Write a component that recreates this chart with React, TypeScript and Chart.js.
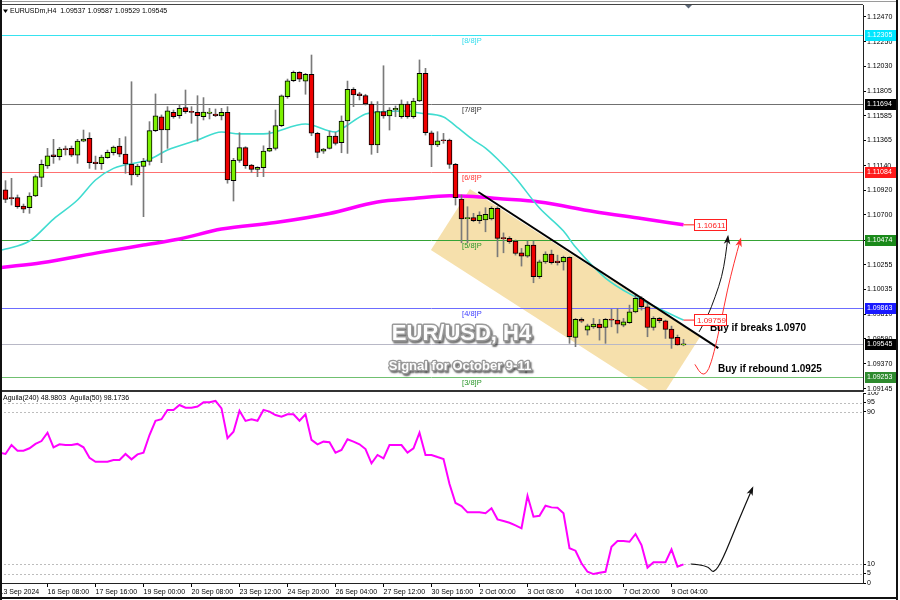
import React, { useEffect, useRef } from "react";
import { Chart, registerables } from "chart.js";

Chart.register(...registerables);

const FONT = '"Liberation Sans", Arial, Helvetica, sans-serif';

const SYMBOL = "EURUSDm,H4";

const OPEN = [
  1.10923, 1.10848, 1.10854, 1.10779, 1.10764, 1.10869, 1.11036, 1.11137, 1.11238, 1.1122,
  1.11286, 1.11295, 1.11235, 1.1136, 1.11385, 1.11173, 1.11158, 1.11211, 1.11256, 1.11316,
  1.11244, 1.11152, 1.11057, 1.11134, 1.11179, 1.11453, 1.11578, 1.11459, 1.11617, 1.11587,
  1.11659, 1.11619, 1.11617, 1.11578, 1.11608, 1.11602, 1.11585, 1.11617, 1.11006, 1.11188,
  1.11301, 1.11146, 1.11107, 1.11122, 1.11271, 1.11295, 1.11498, 1.11758, 1.119, 1.11975,
  1.11897, 1.11957, 1.1143, 1.11271, 1.11295, 1.11405, 1.11346, 1.1154, 1.11824, 1.11782,
  1.11766, 1.11692, 1.11325, 1.11623, 1.11585, 1.11638, 1.11578, 1.11692, 1.11578, 1.11719,
  1.11966, 1.11435, 1.11325, 1.11367, 1.11369, 1.11152, 1.10842, 1.10666, 1.10675, 1.10648,
  1.10654, 1.10663, 1.10759, 1.10493, 1.1049, 1.10466, 1.10361, 1.10331, 1.1043, 1.10147,
  1.1028, 1.10349, 1.10287, 1.1028, 1.1032, 1.09604, 1.09765, 1.09669, 1.09699, 1.09723,
  1.09693, 1.09765, 1.09759, 1.09714, 1.09735, 1.09833, 1.09953, 1.09878, 1.09693, 1.09774,
  1.09753, 1.09678, 1.09604, 1.09537,
];
const HIGH = [
  1.11006, 1.11027, 1.10878, 1.10797, 1.10898, 1.11057, 1.11191, 1.11295, 1.11376, 1.11304,
  1.11316, 1.11316, 1.11376, 1.11459, 1.11435, 1.11226, 1.11235, 1.1128, 1.11316, 1.11385,
  1.11399, 1.11891, 1.11152, 1.11206, 1.11534, 1.11782, 1.11594, 1.11668, 1.11638, 1.11683,
  1.11817, 1.11668, 1.11766, 1.11749, 1.11653, 1.11647, 1.11653, 1.11668, 1.11206, 1.11435,
  1.1131, 1.11152, 1.11131, 1.11318, 1.1145, 1.11638, 1.11773, 1.11915, 1.11987, 1.11981,
  1.11966, 1.1213, 1.11439, 1.11295, 1.1145, 1.11439, 1.11585, 1.11897, 1.11838, 1.11797,
  1.11779, 1.11713, 1.11713, 1.12034, 1.11659, 1.11674, 1.11728, 1.11713, 1.11743, 1.12086,
  1.12011, 1.1145, 1.11444, 1.11429, 1.11378, 1.11161, 1.10878, 1.10773, 1.10714, 1.10728,
  1.10764, 1.10773, 1.10773, 1.10539, 1.10505, 1.10475, 1.104, 1.10466, 1.10466, 1.10296,
  1.1037, 1.10385, 1.1034, 1.10331, 1.10325, 1.09774, 1.09779, 1.09723, 1.09774, 1.09765,
  1.09774, 1.09857, 1.09863, 1.09774, 1.09893, 1.09983, 1.09968, 1.09908, 1.09789, 1.09783,
  1.09759, 1.09705, 1.09625, 1.09587,
];
const LOW = [
  1.10809, 1.10788, 1.10759, 1.10719, 1.10714, 1.10863, 1.10952, 1.11116, 1.11161, 1.11191,
  1.11235, 1.1122, 1.11161, 1.11354, 1.11116, 1.11107, 1.11107, 1.11206, 1.11235, 1.1122,
  1.11072, 1.10967, 1.11042, 1.10684, 1.11146, 1.11444, 1.11167, 1.11295, 1.11564, 1.11564,
  1.11608, 1.11519, 1.1136, 1.11549, 1.11558, 1.11578, 1.11549, 1.10983, 1.10824, 1.1117,
  1.11116, 1.1108, 1.11042, 1.11042, 1.11265, 1.1128, 1.11489, 1.11743, 1.11891, 1.11891,
  1.11779, 1.11408, 1.11211, 1.1125, 1.11289, 1.11325, 1.11256, 1.1125, 1.11668, 1.11728,
  1.11683, 1.11242, 1.11256, 1.11564, 1.11459, 1.11578, 1.11564, 1.11564, 1.11564, 1.11713,
  1.11414, 1.11131, 1.1131, 1.1134, 1.11116, 1.10788, 1.10451, 1.10451, 1.10639, 1.10624,
  1.10549, 1.10654, 1.10325, 1.10361, 1.10445, 1.1034, 1.10242, 1.1032, 1.10093, 1.10132,
  1.10266, 1.1026, 1.10251, 1.10206, 1.09551, 1.09521, 1.09737, 1.09625, 1.09685, 1.0958,
  1.09551, 1.09699, 1.09643, 1.09699, 1.09729, 1.09824, 1.09848, 1.0961, 1.09669, 1.09735,
  1.09595, 1.09506, 1.09535, 1.09529,
];
const CLOSE = [
  1.10839, 1.10845, 1.10773, 1.10752, 1.10869, 1.11042, 1.11152, 1.11229, 1.1122, 1.11289,
  1.11283, 1.11235, 1.1136, 1.11378, 1.11167, 1.11158, 1.11217, 1.11259, 1.11307, 1.11244,
  1.11155, 1.11057, 1.11137, 1.11179, 1.11453, 1.11585, 1.11459, 1.1163, 1.11578, 1.11653,
  1.11623, 1.11617, 1.11587, 1.1162, 1.1162, 1.11587, 1.11617, 1.11012, 1.11188, 1.11301,
  1.1114, 1.11107, 1.11125, 1.11271, 1.11295, 1.11498, 1.11764, 1.119, 1.11975, 1.11915,
  1.11957, 1.1143, 1.11259, 1.11289, 1.11405, 1.1134, 1.1154, 1.11824, 1.11773, 1.11766,
  1.11692, 1.11325, 1.11623, 1.11585, 1.11638, 1.11653, 1.11692, 1.11578, 1.11719, 1.11966,
  1.11435, 1.11325, 1.11363, 1.11363, 1.11152, 1.10854, 1.10663, 1.10675, 1.10648, 1.10699,
  1.10705, 1.10759, 1.1049, 1.10488, 1.1046, 1.10355, 1.10331, 1.1043, 1.10147, 1.1028,
  1.10349, 1.10272, 1.10272, 1.1032, 1.0961, 1.09765, 1.0975, 1.09708, 1.09723, 1.0969,
  1.09765, 1.09759, 1.09723, 1.09744, 1.09833, 1.09953, 1.09878, 1.09693, 1.09774, 1.09753,
  1.09676, 1.09595, 1.09537, 1.09545,
];

// moving averages read as [candle index, price]
const MA_FAST = [
  [-1, 1.10381], [0, 1.10394], [4, 1.10466], [8, 1.10663], [12, 1.10833], [15, 1.11012], [18, 1.11116],
  [24, 1.11196], [27, 1.1128], [32, 1.11369], [36, 1.11441], [39, 1.11425], [43, 1.11425],
  [50, 1.11513], [55, 1.11441], [56, 1.11468], [60, 1.11602], [62, 1.11619], [67, 1.11629],
  [69, 1.11611], [73, 1.11576], [75, 1.11497], [78, 1.11369], [80, 1.11298], [82, 1.112],
  [85, 1.1103], [89, 1.10761], [93, 1.10555], [95, 1.10412], [100, 1.10135], [105, 1.09965],
  [108, 1.09885], [113, 1.09759],
];
const MA_SLOW = [
  [-1, 1.10228], [0, 1.10234], [6, 1.10272], [16, 1.10367], [23, 1.1043], [29, 1.10484], [36, 1.10573],
  [45, 1.10631], [54, 1.10712], [62, 1.10815], [68, 1.10846], [74, 1.10871], [78, 1.10864],
  [82, 1.10846], [89, 1.10815], [98, 1.1073], [106, 1.10667], [113, 1.10611],
];

const AGUILA_START = -1;
const AGUILA = [
  68.6, 67.9, 72.6, 69.6, 69.6, 70.9, 73.2, 74.7, 79.1, 71.4, 73.0, 72.6, 72.6, 73.2, 71.4,
  65.9, 63.8, 63.8, 63.8, 64.7, 64.7, 67.9, 65.1, 67.7, 68.6, 77.9, 85.4, 86.2, 91.1, 91.1,
  93.7, 92.3, 92.3, 92.9, 95.1, 95.1, 95.8, 91.9, 76.2, 79.6, 90.7, 85.3, 86.2, 85.4, 91.1,
  90.2, 88.4, 87.5, 88.8, 88.8, 85.4, 88.8, 75.3, 73.0, 74.4, 74.1, 68.6, 70.0, 75.6, 74.4,
  73.0, 70.5, 63.0, 67.4, 65.6, 72.6, 72.6, 72.6, 68.6, 70.9, 79.1, 67.4, 67.4, 66.3, 65.3,
  52.1, 42.1, 40.5, 37.2, 37.2, 37.2, 36.7, 39.3, 33.5, 32.6, 31.7, 30.3, 28.8, 45.9, 34.9,
  35.4, 40.7, 39.8, 39.6, 36.7, 18.3, 17.0, 10.4, 5.9, 4.7, 5.4, 5.9, 19.1, 22.1, 22.1,
  21.7, 25.8, 20.0, 8.1, 10.9, 10.9, 10.9, 17.7, 8.6, 9.8,
];
const AGUILA_LEGEND = "Aguila(240) 48.9803  Aguila(50) 98.1736";

const Y_TICKS = [
  1.1247, 1.1225, 1.1203, 1.11805, 1.11585, 1.11365, 1.1114, 1.1092, 1.107, 1.10475,
  1.10255, 1.10035, 1.0981, 1.0959, 1.0937, 1.09145,
];
const OSC_TICKS = [0, 5, 10, 90, 95, 100];
const OSC_GUIDES = [5, 10, 90, 95];
const X_TICK_INDEX = [-1, 7, 15, 23, 31, 39, 47, 55, 63, 71, 79, 87, 95, 103, 111];
const X_TICK_LABELS = [
  "13 Sep 2024", "16 Sep 08:00", "17 Sep 16:00", "19 Sep 00:00", "20 Sep 08:00",
  "23 Sep 12:00", "24 Sep 20:00", "26 Sep 04:00", "27 Sep 12:00", "30 Sep 16:00",
  "2 Oct 00:00", "3 Oct 08:00", "4 Oct 16:00", "7 Oct 20:00", "9 Oct 04:00",
];

const LEVEL_VALUES = [1.12305, 1.11694, 1.11084, 1.10474, 1.09863, 1.09545, 1.09253];
const LEVEL_NAMES = ["[8/8]P", "[7/8]P", "[6/8]P", "[5/8]P", "[4/8]P", "", "[3/8]P"];

const TREND = [[78.8, 1.10905], [118.8, 1.09509]];
const CHANNEL = [[70.9, 1.10385], [77.4, 1.10932], [115.75, 1.09607], [109.25, 1.09062]];
const BREAK_PATH = [
  [115.6, 1.09654], [117.0, 1.09789], [118.3, 1.09968], [119.4, 1.10147], [120.0, 1.10325], [120.4, 1.10504],
];
const REBOUND_PATH = [
  [114.9, 1.09363], [115.6, 1.09296], [116.4, 1.09267], [117.2, 1.09312], [118.05, 1.09461],
  [119.2, 1.09729], [120.3, 1.10027], [121.4, 1.10266], [122.5, 1.10481],
];
const OSC_PATH = [[114.2, 10.0], [117, 9.5], [118, 4.7], [119.5, 12.1], [122, 31.6], [124.5, 50.0]];

const TITLE = "EUR/USD, H4";
const SUBTITLE = "Signal for October 9-11";
const NOTE_BREAK = "Buy if breaks 1.0970";
const NOTE_REBOUND = "Buy if rebound 1.0925";
const TITLE_AT = [76.0, 1.09633];
const SUBTITLE_AT = [75.75, 1.09343];
const NOTE_BREAK_AT = [117.4, 1.09687];
const NOTE_REBOUND_AT = [118.75, 1.09316];
const LEVEL_LABEL_AT = 76.1;
const MA_LABEL_AT = 114.75;

const X_MIN = -0.9167;
const X_MAX = 142.9167;
const Y_MIN = 1.091337;
const Y_MAX = 1.125773;

// styles
const LEVEL_LINE = ["#36e3f0", "#707070", "#ff7070", "#35a335", "#6c6cff", "#b8b8c6", "#70c070"];
const LEVEL_TEXT = ["#33dcec", "#333333", "#ff3333", "#2a962a", "#3c3cff", "", "#2a962a"];
const LEVEL_BOX = ["#00e6ff", "#000000", "#ff1a1a", "#1a8a1a", "#1a1aff", "#000000", "#2e8b2e"];

function pts(list: number[][], xs: any, ys: any) {
  return list.map(([a, b]) => [xs.getPixelForValue(a), ys.getPixelForValue(b)]);
}

function drawArrow(ctx: any, p: number[][], color: string, width: number, head: number) {
  ctx.save();
  ctx.strokeStyle = color;
  ctx.fillStyle = color;
  ctx.lineWidth = width;
  ctx.lineJoin = "round";
  ctx.beginPath();
  ctx.moveTo(p[0][0], p[0][1]);
  for (let k = 1; k < p.length - 1; k++) {
    const mx = (p[k][0] + p[k + 1][0]) / 2;
    const my = (p[k][1] + p[k + 1][1]) / 2;
    ctx.quadraticCurveTo(p[k][0], p[k][1], mx, my);
  }
  const n = p.length;
  ctx.lineTo(p[n - 1][0], p[n - 1][1]);
  ctx.stroke();
  const [x1, y1] = p[n - 2];
  const [x2, y2] = p[n - 1];
  const ang = Math.atan2(y2 - y1, x2 - x1);
  ctx.beginPath();
  ctx.moveTo(x2 + Math.cos(ang) * 2, y2 + Math.sin(ang) * 2);
  ctx.lineTo(x2 - head * Math.cos(ang - 0.42), y2 - head * Math.sin(ang - 0.42));
  ctx.lineTo(x2 - head * 0.6 * Math.cos(ang), y2 - head * 0.6 * Math.sin(ang));
  ctx.lineTo(x2 - head * Math.cos(ang + 0.42), y2 - head * Math.sin(ang + 0.42));
  ctx.closePath();
  ctx.fill();
  ctx.restore();
}

function embossText(ctx: any, text: string, x: number, y: number, size: number, stroke: number) {
  ctx.save();
  ctx.font = `bold ${size}px ${FONT}`;
  ctx.textAlign = "center";
  ctx.textBaseline = "middle";
  ctx.lineJoin = "round";
  ctx.shadowColor = "rgba(0,0,0,0.55)";
  ctx.shadowOffsetX = 1.5;
  ctx.shadowOffsetY = 1.5;
  ctx.shadowBlur = 1.5;
  ctx.lineWidth = stroke;
  ctx.strokeStyle = "#9a9a9a";
  ctx.strokeText(text, x, y);
  ctx.shadowColor = "transparent";
  ctx.fillStyle = "#fdfdfd";
  ctx.fillText(text, x, y);
  ctx.restore();
}

function maLabel(ctx: any, xs: any, ys: any, last: number[], color: string) {
  const ex = xs.getPixelForValue(last[0]);
  const ey = ys.getPixelForValue(last[1]);
  const bx = Math.round(xs.getPixelForValue(MA_LABEL_AT)) + 0.5;
  const by = Math.round(ey) - 5.5;
  ctx.save();
  ctx.strokeStyle = color;
  ctx.lineWidth = 1;
  ctx.beginPath();
  ctx.moveTo(ex, ey);
  ctx.lineTo(bx, ey);
  ctx.stroke();
  ctx.fillStyle = "#ffffff";
  ctx.fillRect(bx, by, 32, 11);
  ctx.strokeRect(bx, by, 32, 11);
  ctx.fillStyle = color;
  ctx.font = `8px ${FONT}`;
  ctx.textBaseline = "middle";
  ctx.fillText(last[1].toFixed(5), bx + 2.5, by + 6);
  ctx.restore();
}

const topDecor = {
  id: "topDecor",
  beforeDatasetsDraw(chart: any) {
    const { ctx, chartArea: a } = chart;
    const xs = chart.scales.x;
    const ys = chart.scales.y;
    ctx.save();
    const poly = pts(CHANNEL, xs, ys);
    ctx.beginPath();
    poly.forEach(([X, Y], k) => (k ? ctx.lineTo(X, Y) : ctx.moveTo(X, Y)));
    ctx.closePath();
    ctx.fillStyle = "rgb(246,224,172)";
    ctx.fill();
    LEVEL_VALUES.forEach((v, k) => {
      const Y = Math.round(ys.getPixelForValue(v)) + 0.5;
      ctx.strokeStyle = LEVEL_LINE[k];
      ctx.lineWidth = 1;
      ctx.beginPath();
      ctx.moveTo(a.left, Y);
      ctx.lineTo(a.right, Y);
      ctx.stroke();
      if (LEVEL_NAMES[k]) {
        ctx.fillStyle = LEVEL_TEXT[k];
        ctx.font = `7.5px ${FONT}`;
        ctx.textBaseline = "top";
        ctx.textAlign = "left";
        ctx.fillText(LEVEL_NAMES[k], xs.getPixelForValue(LEVEL_LABEL_AT), Y + 2);
      }
    });
    ctx.restore();
  },
  afterDatasetsDraw(chart: any) {
    const { ctx } = chart;
    const xs = chart.scales.x;
    const ys = chart.scales.y;
    embossText(ctx, TITLE, xs.getPixelForValue(TITLE_AT[0]), ys.getPixelForValue(TITLE_AT[1]), 22, 3);
    embossText(ctx, SUBTITLE, xs.getPixelForValue(SUBTITLE_AT[0]), ys.getPixelForValue(SUBTITLE_AT[1]), 13, 2.5);
    drawArrow(ctx, pts(BREAK_PATH, xs, ys), "#111111", 1, 8);
    drawArrow(ctx, pts(REBOUND_PATH, xs, ys), "#ff3030", 1, 8);
    ctx.save();
    ctx.fillStyle = "#000";
    ctx.font = `bold 10px ${FONT}`;
    ctx.textBaseline = "middle";
    ctx.textAlign = "left";
    ctx.fillText(NOTE_BREAK, xs.getPixelForValue(NOTE_BREAK_AT[0]), ys.getPixelForValue(NOTE_BREAK_AT[1]));
    ctx.fillText(NOTE_REBOUND, xs.getPixelForValue(NOTE_REBOUND_AT[0]), ys.getPixelForValue(NOTE_REBOUND_AT[1]));
    ctx.restore();
    maLabel(ctx, xs, ys, MA_SLOW[MA_SLOW.length - 1], "#ff2020");
    maLabel(ctx, xs, ys, MA_FAST[MA_FAST.length - 1], "#ff2020");
  },
  afterDraw(chart: any) {
    const { ctx, chartArea: a } = chart;
    const ys = chart.scales.y;
    ctx.save();
    // price boxes on the axis
    LEVEL_VALUES.forEach((v, k) => {
      const Y = Math.round(ys.getPixelForValue(v));
      ctx.fillStyle = LEVEL_BOX[k];
      ctx.fillRect(a.right + 2, Y - 5, 31, 11);
      ctx.fillStyle = "#ffffff";
      ctx.font = `7px ${FONT}`;
      ctx.textBaseline = "middle";
      ctx.textAlign = "left";
      ctx.fillText(v.toFixed(5), a.right + 4, Y + 0.5);
    });
    // header
    const n = OPEN.length - 1;
    ctx.fillStyle = "#000";
    ctx.font = `7px ${FONT}`;
    ctx.textBaseline = "middle";
    ctx.fillText(
      `${SYMBOL}  ${OPEN[n].toFixed(5)} ${HIGH[n].toFixed(5)} ${LOW[n].toFixed(5)} ${CLOSE[n].toFixed(5)}`,
      10, 11.5
    );
    ctx.beginPath();
    ctx.moveTo(3, 9.5);
    ctx.lineTo(8, 9.5);
    ctx.lineTo(5.5, 13);
    ctx.closePath();
    ctx.fill();
    // top marker
    ctx.fillStyle = "#5c6878";
    ctx.beginPath();
    ctx.moveTo(685, 5);
    ctx.lineTo(692, 5);
    ctx.lineTo(688.5, 8.5);
    ctx.closePath();
    ctx.fill();
    // frame
    ctx.fillStyle = "#9a9a9a";
    ctx.fillRect(0, 1, 898, 1);
    ctx.fillStyle = "#444";
    ctx.fillRect(0, 4, a.right, 1);
    ctx.fillStyle = "#333";
    ctx.fillRect(0, a.bottom, a.right + 1, 2);
    ctx.fillStyle = "#111";
    ctx.fillRect(0, 0, 2, chart.height);
    ctx.fillRect(896, 0, 2, chart.height);
    ctx.restore();
  },
};

const bottomDecor = {
  id: "bottomDecor",
  beforeDatasetsDraw(chart: any) {
    const { ctx, chartArea: a } = chart;
    const ys = chart.scales.y;
    ctx.save();
    ctx.strokeStyle = "#bdbdbd";
    ctx.lineWidth = 1;
    ctx.setLineDash([2, 2]);
    OSC_GUIDES.forEach((v) => {
      const Y = Math.round(ys.getPixelForValue(v)) + 0.5;
      ctx.beginPath();
      ctx.moveTo(a.left, Y);
      ctx.lineTo(a.right, Y);
      ctx.stroke();
    });
    ctx.restore();
  },
  afterDatasetsDraw(chart: any) {
    const { ctx } = chart;
    drawArrow(ctx, pts(OSC_PATH, chart.scales.x, chart.scales.y), "#111111", 1.2, 8);
  },
  afterDraw(chart: any) {
    const { ctx } = chart;
    ctx.save();
    ctx.fillStyle = "#000";
    ctx.font = `7px ${FONT}`;
    ctx.textBaseline = "middle";
    ctx.textAlign = "left";
    ctx.fillText(AGUILA_LEGEND, 3, 6.5);
    ctx.fillStyle = "#111";
    ctx.fillRect(0, 0, 2, chart.height);
    ctx.fillRect(896, 0, 2, chart.height);
    ctx.fillRect(0, chart.height - 3, 898, 2);
    ctx.restore();
  },
};

function rightAxisFit(scale: any) {
  scale.width = 37;
  scale.paddingTop = 0;
  scale.paddingBottom = 0;
}

export default function App() {
  const topRef = useRef<HTMLCanvasElement>(null);
  const botRef = useRef<HTMLCanvasElement>(null);

  useEffect(() => {
    Chart.defaults.font.family = FONT;
    Chart.defaults.color = "#000";

    const bodyColors = OPEN.map((o, i) => (CLOSE[i] >= o ? "#7cf000" : "#ee0000"));

    const top = new Chart(topRef.current as HTMLCanvasElement, {
      type: "bar",
      data: {
        datasets: [
          {
            type: "line",
            data: TREND.map(([x, y]) => ({ x, y })),
            borderColor: "#000",
            borderWidth: 2,
            pointRadius: 0,
            order: -1,
          },
          {
            type: "bar",
            data: OPEN.map((o, i) => ({ x: i, y: [Math.min(o, CLOSE[i]), Math.max(o, CLOSE[i])] })),
            backgroundColor: bodyColors,
            borderColor: "#000",
            borderWidth: 1,
            borderSkipped: false,
            barThickness: 5,
            minBarLength: 1,
            grouped: false,
            order: 0,
          },
          {
            type: "bar",
            data: LOW.map((l, i) => ({ x: i, y: [l, HIGH[i]] })),
            backgroundColor: "#7a7a7a",
            barThickness: 1,
            grouped: false,
            order: 1,
          },
          {
            type: "line",
            data: MA_FAST.map(([x, y]) => ({ x, y })),
            borderColor: "#40dcd0",
            borderWidth: 1.6,
            pointRadius: 0,
            cubicInterpolationMode: "monotone",
            order: 2,
          },
          {
            type: "line",
            data: MA_SLOW.map(([x, y]) => ({ x, y })),
            borderColor: "#ff00ff",
            borderWidth: 3.5,
            pointRadius: 0,
            cubicInterpolationMode: "monotone",
            order: 3,
          },
        ] as any,
      },
      options: {
        responsive: false,
        animation: false,
        devicePixelRatio: 1,
        events: [],
        layout: { padding: { top: 5, bottom: 2, left: 0, right: 0 } },
        plugins: { legend: { display: false }, tooltip: { enabled: false } },
        scales: {
          x: { type: "linear", display: false, min: X_MIN, max: X_MAX, offset: false, bounds: "data" },
          y: {
            type: "linear",
            position: "right",
            min: Y_MIN,
            max: Y_MAX,
            bounds: "data",
            afterBuildTicks: (s: any) => {
              s.ticks = Y_TICKS.map((v) => ({ value: v }));
            },
            afterFit: rightAxisFit,
            ticks: {
              callback: (v: any) => Number(v).toFixed(5),
              font: { size: 7, family: FONT },
              color: "#000",
              padding: 1,
              autoSkip: false,
            },
            grid: { drawOnChartArea: false, drawTicks: true, tickLength: 3, color: "#000" },
            border: { display: true, color: "#222", width: 1 },
          },
        },
      } as any,
      plugins: [topDecor],
    });

    const bottom = new Chart(botRef.current as HTMLCanvasElement, {
      type: "line",
      data: {
        datasets: [
          {
            data: AGUILA.map((v, k) => ({ x: k + AGUILA_START, y: v })),
            borderColor: "#ff00ff",
            borderWidth: 2,
            pointRadius: 0,
            tension: 0,
          },
        ],
      },
      options: {
        responsive: false,
        animation: false,
        devicePixelRatio: 1,
        events: [],
        layout: { padding: { top: 1, bottom: 0, left: 0, right: 0 } },
        plugins: { legend: { display: false }, tooltip: { enabled: false } },
        scales: {
          x: {
            type: "linear",
            min: X_MIN,
            max: X_MAX,
            offset: false,
            bounds: "data",
            afterBuildTicks: (s: any) => {
              s.ticks = X_TICK_INDEX.map((v) => ({ value: v }));
            },
            afterFit: (s: any) => {
              s.height = 17;
              s.paddingLeft = 0;
              s.paddingRight = 0;
            },
            ticks: {
              callback: (_v: any, i: number) => X_TICK_LABELS[i],
              font: { size: 7, family: FONT },
              color: "#000",
              align: "start",
              autoSkip: false,
              maxRotation: 0,
              minRotation: 0,
              padding: 1,
            },
            grid: { drawOnChartArea: false, drawTicks: true, tickLength: 4, color: "#000" },
            border: { display: true, color: "#222", width: 1 },
          },
          y: {
            type: "linear",
            position: "right",
            min: 0,
            max: 100,
            bounds: "data",
            afterBuildTicks: (s: any) => {
              s.ticks = OSC_TICKS.map((v) => ({ value: v }));
            },
            afterFit: rightAxisFit,
            ticks: {
              font: { size: 7, family: FONT },
              color: "#000",
              padding: 1,
              autoSkip: false,
            },
            grid: { drawOnChartArea: false, drawTicks: true, tickLength: 3, color: "#000" },
            border: { display: true, color: "#222", width: 1 },
          },
        },
      } as any,
      plugins: [bottomDecor],
    });

    return () => {
      top.destroy();
      bottom.destroy();
    };
  }, []);

  return (
    <div style={{ position: "fixed", left: 0, top: 0, width: 900, height: 600, background: "#fff", overflow: "hidden" }}>
      <canvas ref={topRef} width={900} height={392} style={{ position: "absolute", left: 0, top: 0 }} />
      <canvas ref={botRef} width={900} height={208} style={{ position: "absolute", left: 0, top: 392 }} />
    </div>
  );
}
